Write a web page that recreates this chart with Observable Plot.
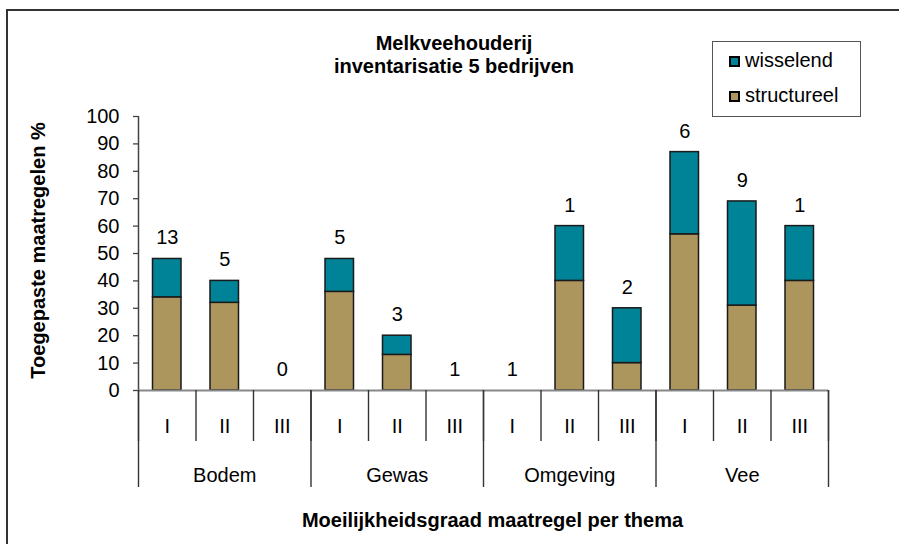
<!DOCTYPE html>
<html>
<head>
<meta charset="utf-8">
<script src="https://cdn.jsdelivr.net/npm/d3@7"></script>
<script src="https://cdn.jsdelivr.net/npm/@observablehq/plot@0.6"></script>
<style>
  body { margin: 0; background: #fff; font-family: "Liberation Sans", Arial, sans-serif; }
  #wrap { position: relative; width: 899px; height: 544px; overflow: hidden; background: #fff; }
  #frame { position: absolute; left: 6px; top: 9px; width: 1000px; height: 1000px; border: 2px solid #333; pointer-events: none; z-index: 2; }
  #title { position: absolute; left: 0; width: 908px; top: 32px; text-align: center; font-weight: bold; font-size: 20px; line-height: 23px; color: #000; z-index: 3; }
  #legend { position: absolute; left: 712px; top: 41px; width: 147px; height: 74px; border: 1.5px solid #555; background: #fff; z-index: 3; }
  .item { position: absolute; left: 16px; height: 24px; line-height: 24px; font-size: 20px; color: #000; white-space: nowrap; }
  .sw { display: inline-block; width: 7px; height: 7px; border: 2px solid #000; margin-right: 5px; vertical-align: 0px; }
  #chart { position: absolute; left: 0; top: 0; z-index: 1; }
</style>
</head>
<body>
<div id="wrap">
  <div id="chart"></div>
  <div id="frame"></div>
  <div id="title">Melkveehouderij<br>inventarisatie 5 bedrijven</div>
  <div id="legend"></div>
</div>
<script>
// ---- data ----
const groups = ["Bodem", "Gewas", "Omgeving", "Vee"];
const levels = ["I", "II", "III"];
const structureel = [34, 32, 0, 36, 13, 0, 0, 40, 10, 57, 31, 40];
const wisselend  = [14, 8, 0, 12, 7, 0, 0, 20, 20, 30, 38, 20];
const counts     = [13, 5, 0, 5, 3, 1, 1, 1, 2, 6, 9, 1];
const series = ["structureel", "wisselend"];
const seriesColors = ["#ad955e", "#008396"];
const legendOrder = ["wisselend", "structureel"];
const yTicks = [0, 10, 20, 30, 40, 50, 60, 70, 80, 90, 100];
const yTitle = "Toegepaste maatregelen %";
const xTitle = "Moeilijkheidsgraad maatregel per thema";

// ---- derived tables ----
const n = groups.length * levels.length;
const rows = [];
for (let i = 0; i < n; i++) {
  rows.push({x1: i, x2: i + 1, serie: "structureel", value: structureel[i]});
  rows.push({x1: i, x2: i + 1, serie: "wisselend", value: wisselend[i]});
}
const totals = d3.range(n).map(i => ({mid: i + 0.5, total: structureel[i] + wisselend[i], count: counts[i]}));
const boundaries = d3.range(n + 1);
const groupBoundaries = d3.range(0, n + 1, levels.length);
const levelCenters = d3.range(n).map(i => i + 0.5);
const groupCenters = groups.map((g, k) => k * levels.length + levels.length / 2);

const font = "Liberation Sans, Arial, sans-serif";

const plot = Plot.plot({
  width: 899,
  height: 544,
  marginLeft: 138,
  marginRight: 71,
  marginTop: 116,
  marginBottom: 154,
  style: {fontFamily: font, fontSize: "20px", color: "#000", background: "transparent", overflow: "visible"},
  x: {domain: [0, n], label: null},
  y: {domain: [0, 100], label: null},
  color: {domain: series, range: seriesColors},
  marks: [
    Plot.axisY({ticks: yTicks, tickSize: 5, tickPadding: 14, label: null, fontSize: 20, stroke: "#444", strokeWidth: 1.3}),
    Plot.ruleX([0], {stroke: "#444", strokeWidth: 1.5}),
    Plot.rectY(rows, Plot.stackY({x1: "x1", x2: "x2", y: "value", fill: "serie", order: series, stroke: "#1a1a1a", strokeWidth: 1.5, insetLeft: 14.5, insetRight: 14.5})),
    Plot.ruleY([0], {stroke: "#888", strokeWidth: 2}),
    Plot.axisX({ticks: boundaries, tickSize: 51, tickFormat: () => "", label: null, stroke: "#333", strokeWidth: 1.4}),
    Plot.axisX({ticks: groupBoundaries, tickSize: 97, tickFormat: () => "", label: null, stroke: "#333", strokeWidth: 1.4}),
    Plot.axisX({ticks: levelCenters, tickSize: 0, tickPadding: 28, tickFormat: d => levels[Math.floor(d) % levels.length], label: null, fontSize: 20}),
    Plot.axisX({ticks: groupCenters, tickSize: 0, tickPadding: 77, tickFormat: d => groups[Math.floor(d / levels.length)], label: null, fontSize: 20}),
    Plot.text(totals, {x: "mid", y: "total", text: d => String(d.count), dy: -21, fontSize: 20, fill: "#000"}),
    Plot.text([yTitle], {frameAnchor: "left", textAnchor: "middle", lineAnchor: "middle", rotate: -90, dx: -100, dy: -3, fontSize: 20, fontWeight: "bold", fill: "#000"}),
    Plot.text([xTitle], {frameAnchor: "bottom", textAnchor: "middle", lineAnchor: "middle", dx: 9, dy: 130, fontSize: 20, fontWeight: "bold", fill: "#000"})
  ]
});
document.getElementById("chart").appendChild(plot);

// legend
const legend = document.getElementById("legend");
legendOrder.forEach((s, k) => {
  const item = document.createElement("div");
  item.className = "item";
  item.style.top = (6 + k * 35) + "px";
  const sw = document.createElement("span");
  sw.className = "sw";
  sw.style.background = seriesColors[series.indexOf(s)];
  item.appendChild(sw);
  item.appendChild(document.createTextNode(s));
  legend.appendChild(item);
});
</script>
</body>
</html>
